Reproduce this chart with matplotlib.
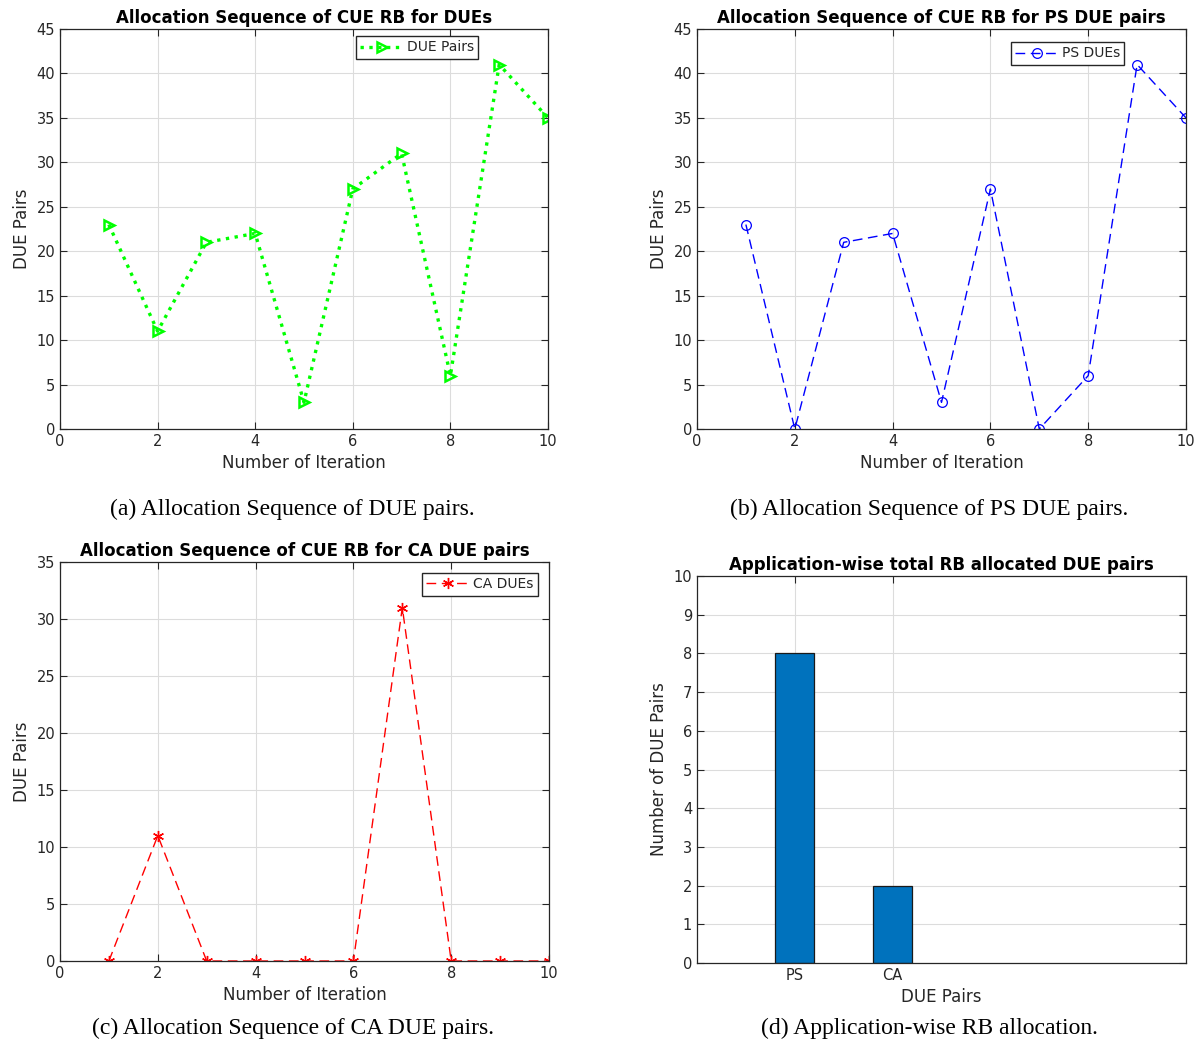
import matplotlib
matplotlib.use("Agg")
import matplotlib.pyplot as plt

iterations = [1, 2, 3, 4, 5, 6, 7, 8, 9, 10]
due_pairs = [23, 11, 21, 22, 3, 27, 31, 6, 41, 35]
ps_dues = [23, 0, 21, 22, 3, 27, 0, 6, 41, 35]
ca_dues = [0, 11, 0, 0, 0, 0, 31, 0, 0, 0]
app_categories = ["PS", "CA"]
app_counts = [8, 2]

W, H = 1202, 1045
fig = plt.figure(figsize=(W / 100, H / 100), dpi=100)

def ax_at(l, t, r, b):
    return fig.add_axes([l / W, 1 - b / H, (r - l) / W, (b - t) / H])

TC = "#262626"

def style(ax):
    ax.grid(True, color="#dcdcdc", linewidth=0.8)
    ax.set_axisbelow(True)
    ax.tick_params(direction="in", top=True, right=True, labelsize=10.5,
                   colors=TC, length=5, width=0.8)
    for s in ax.spines.values():
        s.set_color(TC)
        s.set_linewidth(0.9)

def leg(ax, anchor):
    lg = ax.legend(loc="upper right", bbox_to_anchor=anchor, fontsize=10,
                   fancybox=False, framealpha=1, edgecolor=TC,
                   borderpad=0.3, handlelength=3.2, handletextpad=0.2,
                   borderaxespad=0)
    lg.get_frame().set_linewidth(1.0)
    for t in lg.get_texts():
        t.set_color(TC)

TFS = 12

# (a)
ax1 = ax_at(60, 29, 548, 429)
ax1.plot(iterations, due_pairs, linestyle=":", color="#00ff00", linewidth=2.4,
         marker=">", markersize=7, markerfacecolor="none", markeredgewidth=1.8,
         label="DUE Pairs")
ax1.set_xlim(0, 10); ax1.set_ylim(0, 45)
ax1.set_xticks(range(0, 11, 2)); ax1.set_yticks(range(0, 46, 5))
ax1.set_title("Allocation Sequence of CUE RB for DUEs", fontsize=TFS,
              fontweight="bold", pad=4)
ax1.set_xlabel("Number of Iteration", fontsize=12, color=TC)
ax1.set_ylabel("DUE Pairs", fontsize=12, color=TC)
style(ax1)
leg(ax1, (0.857, 0.982))

# (b)
ax2 = ax_at(697, 29, 1186, 429)
ax2.plot(iterations, ps_dues, linestyle="--", color="#0000ff", linewidth=1.0,
         dashes=(7, 4), marker="o", markersize=7, markerfacecolor="none",
         markeredgewidth=0.9, label="PS DUEs")
ax2.set_xlim(0, 10); ax2.set_ylim(0, 45)
ax2.set_xticks(range(0, 11, 2)); ax2.set_yticks(range(0, 46, 5))
ax2.set_title("Allocation Sequence of CUE RB for PS DUE pairs", fontsize=TFS,
              fontweight="bold", pad=4)
ax2.set_xlabel("Number of Iteration", fontsize=12, color=TC)
ax2.set_ylabel("DUE Pairs", fontsize=12, color=TC)
style(ax2)
leg(ax2, (0.874, 0.967))

# (c)
ax3 = ax_at(60, 562, 549, 961)
ax3.plot(iterations, ca_dues, linestyle="--", color="#ff0000", linewidth=1.0,
         dashes=(7, 4), marker=(6, 2, 0), markersize=8,
         markeredgewidth=1.0, label="CA DUEs")
ax3.set_xlim(0, 10); ax3.set_ylim(0, 35)
ax3.set_xticks(range(0, 11, 2)); ax3.set_yticks(range(0, 36, 5))
ax3.set_title("Allocation Sequence of CUE RB for CA DUE pairs", fontsize=TFS,
              fontweight="bold", pad=4)
ax3.set_xlabel("Number of Iteration", fontsize=12, color=TC)
ax3.set_ylabel("DUE Pairs", fontsize=12, color=TC)
style(ax3)
leg(ax3, (0.977, 0.972))

# (d)
ax4 = ax_at(697, 576, 1186, 963)
xpos = list(range(1, len(app_categories) + 1))
ax4.bar(xpos, app_counts, width=0.4, color="#0072bd", edgecolor="#1a1a1a",
        linewidth=0.9)
ax4.set_xlim(0, 5); ax4.set_ylim(0, 10)
ax4.set_xticks(xpos); ax4.set_xticklabels(app_categories)
ax4.set_yticks(range(0, 11))
ax4.set_title("Application-wise total RB allocated DUE pairs", fontsize=TFS,
              fontweight="bold", pad=4)
ax4.set_xlabel("DUE Pairs", fontsize=12, color=TC)
ax4.set_ylabel("Number of DUE Pairs", fontsize=12, color=TC)
style(ax4)

caps = [("(a) Allocation Sequence of DUE pairs.", 292, 509),
        ("(b) Allocation Sequence of PS DUE pairs.", 929, 509),
        ("(c) Allocation Sequence of CA DUE pairs.", 293, 1028),
        ("(d) Application-wise RB allocation.", 929, 1028)]
for txt, x, y in caps:
    fig.text(x / W, 1 - y / H, txt, ha="center", va="center",
             fontsize=17, family="Liberation Serif", color="black")

fig.savefig("out.png", dpi=100)
